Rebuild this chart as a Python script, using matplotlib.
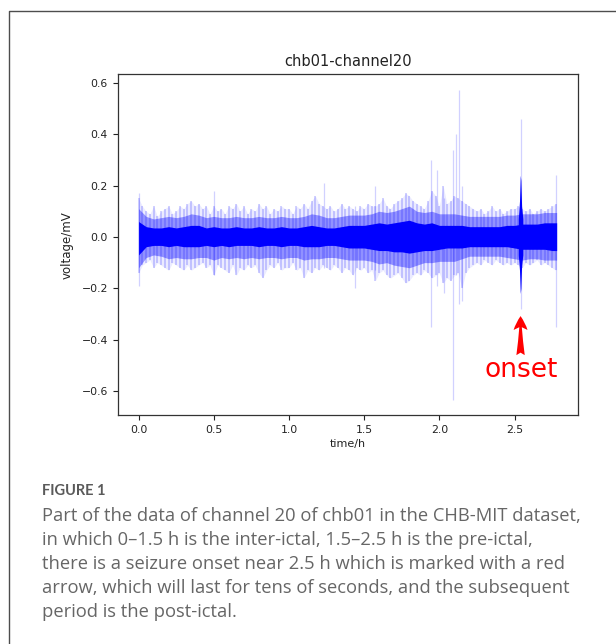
import matplotlib
matplotlib.use("Agg")
import matplotlib.pyplot as plt
import numpy as np
from matplotlib.lines import Line2D

# data -----------------------------------------------------------------

title = "chb01-channel20"
x_label = "time/h"
y_label = "voltage/mV"

# dense core of the trace, every 0.05 h
t_band = [0.00, 0.05, 0.10, 0.15, 0.20, 0.25, 0.30, 0.35, 0.40, 0.45,
          0.50, 0.55, 0.60, 0.65, 0.70, 0.75, 0.80, 0.85, 0.90, 0.95,
          1.00, 1.05, 1.10, 1.15, 1.20, 1.25, 1.30, 1.35, 1.40, 1.45,
          1.50, 1.55, 1.60, 1.65, 1.70, 1.75, 1.80, 1.85, 1.90, 1.95,
          2.00, 2.05, 2.10, 2.15, 2.20, 2.25, 2.30, 2.35, 2.40, 2.45,
          2.50, 2.55, 2.60, 2.65, 2.70, 2.75, 2.78]
core_hi = [0.060, 0.040, 0.035, 0.035, 0.040, 0.035, 0.040, 0.045, 0.045, 0.035,
           0.040, 0.035, 0.035, 0.040, 0.035, 0.035, 0.040, 0.035, 0.035, 0.040,
           0.035, 0.035, 0.040, 0.045, 0.040, 0.035, 0.035, 0.040, 0.045, 0.045,
           0.045, 0.050, 0.055, 0.050, 0.055, 0.060, 0.065, 0.055, 0.050, 0.055,
           0.045, 0.045, 0.045, 0.045, 0.040, 0.040, 0.040, 0.040, 0.040, 0.045,
           0.045, 0.050, 0.050, 0.050, 0.055, 0.055, 0.055]
core_lo = [-0.070, -0.038, -0.033, -0.033, -0.038, -0.033, -0.038, -0.038, -0.038, -0.033,
           -0.038, -0.033, -0.038, -0.033, -0.033, -0.033, -0.038, -0.033, -0.033, -0.038,
           -0.033, -0.033, -0.038, -0.038, -0.038, -0.033, -0.033, -0.038, -0.043, -0.043,
           -0.043, -0.048, -0.053, -0.053, -0.058, -0.058, -0.063, -0.058, -0.053, -0.053,
           -0.048, -0.043, -0.043, -0.043, -0.038, -0.038, -0.038, -0.038, -0.038, -0.038,
           -0.043, -0.048, -0.048, -0.048, -0.048, -0.053, -0.053]
mid_hi = [0.110, 0.080, 0.070, 0.075, 0.080, 0.075, 0.080, 0.090, 0.085, 0.075,
          0.080, 0.075, 0.075, 0.080, 0.075, 0.075, 0.080, 0.075, 0.075, 0.080,
          0.075, 0.075, 0.080, 0.090, 0.085, 0.075, 0.075, 0.080, 0.085, 0.085,
          0.085, 0.090, 0.100, 0.095, 0.100, 0.110, 0.120, 0.100, 0.095, 0.100,
          0.090, 0.090, 0.090, 0.085, 0.080, 0.080, 0.080, 0.080, 0.080, 0.085,
          0.085, 0.090, 0.090, 0.090, 0.095, 0.095, 0.095]
mid_lo = [-0.120, -0.080, -0.070, -0.075, -0.085, -0.080, -0.085, -0.085, -0.080, -0.080,
          -0.090, -0.080, -0.085, -0.080, -0.085, -0.080, -0.085, -0.080, -0.080, -0.085,
          -0.080, -0.080, -0.090, -0.085, -0.085, -0.080, -0.080, -0.085, -0.090, -0.090,
          -0.090, -0.095, -0.105, -0.100, -0.110, -0.115, -0.120, -0.110, -0.100, -0.100,
          -0.095, -0.095, -0.095, -0.085, -0.075, -0.075, -0.075, -0.075, -0.075, -0.080,
          -0.085, -0.090, -0.085, -0.085, -0.090, -0.090, -0.090]

# light hair of the trace, every 0.025 h
t_hair = [round(0.025 * i, 3) for i in range(112)]
hair_hi = [0.15, 0.12, 0.10, 0.09, 0.12, 0.08, 0.10, 0.11, 0.12, 0.09,
           0.10, 0.12, 0.11, 0.13, 0.14, 0.12, 0.13, 0.11, 0.12, 0.09,
           0.12, 0.10, 0.11, 0.09, 0.12, 0.11, 0.13, 0.10, 0.12, 0.09,
           0.11, 0.10, 0.13, 0.11, 0.12, 0.09, 0.11, 0.10, 0.12, 0.11,
           0.11, 0.09, 0.12, 0.11, 0.13, 0.11, 0.14, 0.16, 0.13, 0.12,
           0.11, 0.12, 0.10, 0.11, 0.13, 0.11, 0.12, 0.11, 0.10, 0.12,
           0.11, 0.13, 0.12, 0.12, 0.13, 0.15, 0.12, 0.11, 0.13, 0.14,
           0.15, 0.17, 0.16, 0.14, 0.13, 0.12, 0.11, 0.14, 0.18, 0.16,
           0.12, 0.20, 0.13, 0.14, 0.16, 0.15, 0.14, 0.13, 0.12, 0.11,
           0.10, 0.11, 0.09, 0.10, 0.12, 0.10, 0.11, 0.09, 0.10, 0.11,
           0.11, 0.12, 0.11, 0.10, 0.11, 0.09, 0.10, 0.11, 0.10, 0.11,
           0.12, 0.13]
hair_lo = [-0.14, -0.11, -0.10, -0.09, -0.12, -0.10, -0.11, -0.12, -0.13, -0.10,
           -0.11, -0.12, -0.13, -0.11, -0.13, -0.12, -0.11, -0.10, -0.12, -0.11,
           -0.15, -0.11, -0.12, -0.13, -0.14, -0.11, -0.15, -0.12, -0.13, -0.11,
           -0.12, -0.11, -0.14, -0.16, -0.13, -0.11, -0.12, -0.10, -0.13, -0.12,
           -0.12, -0.10, -0.13, -0.12, -0.16, -0.13, -0.14, -0.12, -0.13, -0.11,
           -0.12, -0.13, -0.11, -0.12, -0.14, -0.12, -0.13, -0.15, -0.12, -0.13,
           -0.12, -0.14, -0.13, -0.17, -0.14, -0.13, -0.15, -0.16, -0.15, -0.14,
           -0.16, -0.18, -0.17, -0.15, -0.14, -0.15, -0.13, -0.14, -0.16, -0.15,
           -0.14, -0.18, -0.16, -0.17, -0.15, -0.14, -0.20, -0.14, -0.12, -0.11,
           -0.10, -0.11, -0.09, -0.10, -0.11, -0.09, -0.10, -0.11, -0.10, -0.11,
           -0.10, -0.11, -0.12, -0.10, -0.11, -0.10, -0.09, -0.11, -0.10, -0.11,
           -0.12, -0.13]

# single large spikes
spike_t = [0.00, 0.50, 1.23, 1.44, 1.573, 1.947, 1.985, 2.03, 2.09, 2.11, 2.133, 2.15, 2.54, 2.773]
spike_hi = [0.17, 0.18, 0.21, 0.12, 0.20, 0.30, 0.26, 0.15, 0.34, 0.40, 0.573, 0.20, 0.46, 0.24]
spike_lo = [-0.19, -0.15, -0.12, -0.20, -0.13, -0.35, -0.19, -0.22, -0.633, -0.15, -0.26, -0.25, -0.28, -0.35]

# the seizure onset burst
burst_t = [2.525, 2.533, 2.538, 2.542, 2.547, 2.555]
burst_hi = [0.07, 0.14, 0.24, 0.22, 0.12, 0.07]
burst_lo = [-0.07, -0.13, -0.22, -0.20, -0.11, -0.07]

onset_t = 2.54
onset_tip = -0.308
onset_tail = -0.46

caption_head = "FIGURE 1"
caption_lines = ["Part of the data of channel 20 of chb01 in the CHB-MIT dataset,",
                 "in which 0\u20131.5 h is the inter-ictal, 1.5\u20132.5 h is the pre-ictal,",
                 "there is a seizure onset near 2.5 h which is marked with a red",
                 "arrow, which will last for tens of seconds, and the subsequent",
                 "period is the post-ictal."]

# ----------------------------------------------------------------------

W, H = 616, 644
fig = plt.figure(figsize=(W / 100, H / 100), dpi=100)
fig.patch.set_facecolor("white")

# card border (left and top only, the rest is cropped)
fig.add_artist(Line2D([8.5 / W, 8.5 / W, 1.0], [0.0, 1 - 10.5 / H, 1 - 10.5 / H],
                      transform=fig.transFigure, color="#4d4d4d", lw=1.0))

ax = fig.add_axes([117.7 / W, 1 - 415 / H, 460 / W, 340.7 / H])

ax.fill_between(t_hair, hair_lo, hair_hi, color="blue", alpha=0.08, lw=0)
ax.vlines(t_hair, hair_lo, hair_hi, color="blue", alpha=0.18, lw=1.4)
ax.vlines(spike_t, spike_lo, spike_hi, color="blue", alpha=0.18, lw=0.9)
ax.fill_between(t_band, mid_lo, mid_hi, color="blue", alpha=0.38, lw=0)
ax.fill_between(t_band, core_lo, core_hi, color="blue", lw=0)
ax.fill_between(burst_t, burst_lo, burst_hi, color="blue", lw=0)

ax.set_xlim(-0.139, 2.92)
ax.set_ylim(-0.693, 0.633)
ax.set_xticks([0.0, 0.5, 1.0, 1.5, 2.0, 2.5])
ax.set_yticks([-0.6, -0.4, -0.2, 0.0, 0.2, 0.4, 0.6])
ax.tick_params(labelsize=7.8, colors="#222222", length=3.5, width=0.8)
for s in ax.spines.values():
    s.set_color("#333333")
    s.set_linewidth(0.9)
ax.set_title(title, fontsize=10.5, color="#222222", pad=6)
ax.set_xlabel(x_label, fontsize=8, color="#222222", labelpad=3)
ax.set_ylabel(y_label, fontsize=8.5, color="#222222", labelpad=6)

ax.annotate("", xy=(onset_t, onset_tip), xytext=(onset_t, onset_tail),
            arrowprops=dict(arrowstyle="fancy,head_length=0.5,head_width=0.5,tail_width=0.3",
                            mutation_scale=20, color="red", lw=0, shrinkA=0, shrinkB=0))
ax.text(2.547, -0.545, "onset", color="red", fontsize=19, ha="center", va="baseline")

# caption
fig.text(42 / W, 1 - 495 / H, caption_head, fontsize=10.5, color="#5a5a5a",
         fontweight="bold", family="Lato", va="baseline")
for i, line in enumerate(caption_lines):
    fig.text(42 / W, 1 - (521 + 24 * i) / H, line, fontsize=13.2, color="#666666",
             family="Open Sans", va="baseline")

fig.savefig("out.png", dpi=100)
